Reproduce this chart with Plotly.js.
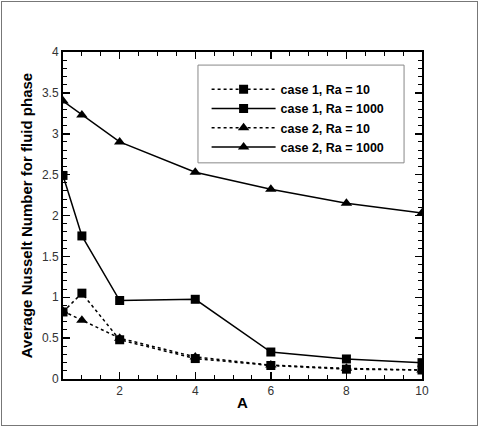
<!DOCTYPE html>
<html><head><meta charset="utf-8">
<script src="https://cdn.plot.ly/plotly-3.0.1.min.js"></script>
<style>
body{margin:0;padding:0;background:#fff;}
#wrap{position:relative;width:480px;height:427px;}
#frame{position:absolute;left:1px;top:1px;width:475px;height:423px;border:1px solid #777;pointer-events:none;}
</style>
</head><body>
<div id="wrap"><div id="chart" style="width:480px;height:427px;"></div><div id="frame"></div></div>
<script>
const A = [0.5, 1, 2, 4, 6, 8, 10];
const case1Ra10   = [0.82, 1.05, 0.48, 0.25, 0.165, 0.12, 0.11];
const case1Ra1000 = [2.49, 1.75, 0.96, 0.975, 0.33, 0.245, 0.2];
const case2Ra10   = [0.83, 0.72, 0.50, 0.27, 0.17, 0.13, 0.11];
const case2Ra1000 = [3.40, 3.23, 2.90, 2.53, 2.32, 2.15, 2.03];
const seriesNames = ['case 1, Ra = 10', 'case 1, Ra = 1000', 'case 2, Ra = 10', 'case 2, Ra = 1000'];

function tr(y, name, dash, sym){
  return {x: A, y: y, name: name, type: 'scatter', mode: 'lines+markers',
    line: {color: '#000', width: 1.5, dash: dash},
    marker: {symbol: sym, size: sym === 'square' ? 9 : 10, color: '#000'}};
}
const data = [
  tr(case1Ra10, seriesNames[0], 'dot', 'square'),
  tr(case1Ra1000, seriesNames[1], 'solid', 'square'),
  tr(case2Ra10, seriesNames[2], 'dot', 'triangle-up'),
  tr(case2Ra1000, seriesNames[3], 'solid', 'triangle-up')
];
const tickFont = {family: 'Liberation Sans, Arial, sans-serif', size: 12, color: '#333'};
const layout = {
  width: 480, height: 427,
  margin: {l: 63, r: 58, t: 52, b: 48},
  paper_bgcolor: '#fff', plot_bgcolor: '#fff',
  showlegend: true,
  xaxis: {range: [0.5, 10], tick0: 0, dtick: 2, ticks: 'inside', ticklen: 7, tickwidth: 1.5, tickcolor: '#000',
    minor: {dtick: 0.5, ticklen: 4, tickwidth: 1, tickcolor: '#000', ticks: 'inside'},
    showline: true, linecolor: '#000', linewidth: 2, mirror: 'allticks', showgrid: false, zeroline: false,
    tickfont: tickFont,
    title: {text: 'A', font: {family: 'Liberation Sans, Arial, sans-serif', size: 15, color: '#000', weight: 'bold'}, standoff: 0}},
  yaxis: {range: [0, 4], tick0: 0, dtick: 0.5, ticks: 'inside', ticklen: 7, tickwidth: 1.5, tickcolor: '#000',
    minor: {dtick: 0.1, ticklen: 4, tickwidth: 1, tickcolor: '#000', ticks: 'inside'},
    showline: true, linecolor: '#000', linewidth: 2, mirror: 'allticks', showgrid: false, zeroline: false,
    tickfont: tickFont,
    title: {text: 'Average Nusselt Number for fluid phase', font: {family: 'Liberation Sans, Arial, sans-serif', size: 15, color: '#000', weight: 'bold'}, standoff: 6}},
  legend: {x: 0.40, y: 0.931, xanchor: 'left', yanchor: 'top', bgcolor: 'rgba(0,0,0,0)', borderwidth: 0,
    font: {family: 'Liberation Sans, Arial, sans-serif', size: 12.5, color: '#000', weight: 'bold'}, itemwidth: 64},
  shapes: [{type: 'rect', xref: 'paper', yref: 'paper', x0: 0.376, x1: 0.950, y0: 0.661, y1: 0.960,
    line: {color: '#888', width: 1}, fillcolor: '#fff', layer: 'above'}]
};
Plotly.newPlot('chart', data, layout, {displayModeBar: false, staticPlot: true});
</script>
</body></html>
